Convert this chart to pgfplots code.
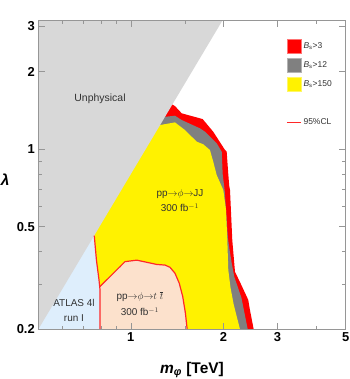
\documentclass[border=0pt]{standalone}
\usepackage{pgfplots}
\pgfplotsset{compat=1.18}
\usepackage{fontspec}
\setmainfont{Liberation Sans}
\definecolor{unphys}{RGB}{216,216,216}
\definecolor{lblue}{RGB}{222,238,252}
\definecolor{peach}{RGB}{252,225,204}
\definecolor{bsgray}{RGB}{128,128,128}
\definecolor{framegray}{RGB}{150,150,150}
\definecolor{txtgray}{RGB}{50,50,50}
\definecolor{clred}{RGB}{255,40,40}
\pgfplotsset{
 sqleg/.style={legend image code/.code={\draw[##1, line width=0.6pt] (0bp,-7bp) rectangle (14bp,7bp);}},
 lineleg/.style={legend image code/.code={\draw[##1, line width=1.3bp] (0bp,0bp) -- (14bp,0bp);}}
}
\begin{document}
\begin{tikzpicture}
\begin{axis}[
 at={(0,0)}, anchor=south west,
 scale only axis, width=307.4bp, height=308.6bp,
 xmode=log, ymode=log,
 xmin=0.5, xmax=5, ymin=0.2, ymax=3.15,
 axis on top,
 xtick={1,2,3,5}, xticklabels={1,2,3,5},
 minor xtick={0.6,0.7,0.8,0.9,1.5,4},
 ytick={0.2,0.5,1,2,3}, yticklabels={0.2,0.5,1,2,3},
 minor ytick={0.3,0.4,0.6,0.7,0.8,0.9},
 tick align=inside,
 major tick length=6.5bp, minor tick length=3.5bp,
 axis line style={framegray, line width=0.6pt},
 tick style={framegray, line width=0.6pt},
 ticklabel style={font=\bfseries\fontsize{13}{13}\selectfont, text=black},
 every axis x label/.style={at={(axis description cs:0.5,-0.1416)}, anchor=base},
 every axis y label/.style={at={(axis description cs:-0.108,0.484)}, anchor=center},
 xlabel={\fontsize{15.5}{16}\selectfont\bfseries\itshape m\textsubscript{φ}\upshape\ [TeV]},
 ylabel={\fontsize{15.5}{16}\selectfont\bfseries\itshape λ},
 legend cell align=left,
 legend style={at={(0.806,0.940)}, anchor=north west, draw=none, fill=none,
   font=\fontsize{8.5}{9}\selectfont, text=txtgray, row sep=4.3bp, inner sep=0pt},
]
% Bs>3 (red)
\addplot[fill=red, draw=none, forget plot] coordinates {
 (0.5,0.2) (0.5,1.5) (1.35,1.50) (1.392,1.469) (1.464,1.377) (1.713,1.308)
 (1.854,1.168) (2.025,0.992) (2.05,0.98) (2.075,0.80) (2.09,0.72) (2.102,0.694)
 (2.138,0.444) (2.182,0.334) (2.265,0.305) (2.41,0.26) (2.44,0.238) (2.51,0.2)
};
% Bs>12 (gray)
\addplot[fill=bsgray, draw=none, forget plot] coordinates {
 (0.5,0.2) (0.5,1.336) (1.301,1.336) (1.392,1.348) (1.464,1.297) (1.679,1.204)
 (1.743,1.168) (1.903,1.053) (1.976,0.977) (1.99,0.80) (2.02,0.69) (2.07,0.45)
 (2.10,0.40) (2.13,0.36) (2.17,0.32) (2.29,0.265) (2.40,0.2)
};
% Bs>150 (yellow)
\addplot[fill=yellow, draw=none, forget plot] coordinates {
 (0.5,0.2) (0.5,1.24) (1.244,1.24) (1.392,1.27) (1.50,1.186) (1.638,1.069)
 (1.721,1.044) (1.809,0.992) (1.854,0.894) (1.903,0.793) (1.999,0.694)
 (2.04,0.581) (2.06,0.444) (2.075,0.34) (2.11,0.29) (2.16,0.25) (2.265,0.2)
};
% ttbar region
\addplot[fill=peach, draw=none, forget plot] coordinates {
 (0.794,0.2) (0.794,0.293) (0.922,0.350) (0.957,0.366) (1.045,0.371) (1.126,0.364)
 (1.214,0.357) (1.292,0.355) (1.341,0.348) (1.392,0.330) (1.437,0.302)
 (1.475,0.268) (1.505,0.231) (1.525,0.2)
};
% ATLAS 4l region
\addplot[fill=lblue, draw=none, forget plot] coordinates {
 (0.5,0.2) (0.5,0.5) (0.7605,0.5) (0.7605,0.462) (0.773,0.371) (0.788,0.311)
 (0.794,0.285) (0.794,0.2)
};
% Unphysical
\addplot[fill=unphys, draw=none, forget plot] coordinates {
 (0.5,0.2) (2.0,3.2) (0.5,3.2)
};
% 95% CL lines
\addplot[clred, line width=1.2bp, forget plot] coordinates {
 (0.794,0.293) (0.922,0.350) (0.957,0.366) (1.045,0.371) (1.126,0.364)
 (1.214,0.357) (1.292,0.355) (1.341,0.348) (1.392,0.330) (1.437,0.302)
 (1.475,0.268) (1.505,0.231) (1.525,0.2)
};
\addplot[clred, line width=1.2bp, forget plot] coordinates {
 (0.7605,0.462) (0.773,0.371) (0.788,0.311) (0.794,0.285) (0.794,0.2)
};
% legend
\addlegendimage{sqleg, fill=red, draw=red!55!white}
\addlegendentry{\textit{B}\textsubscript{s}>3}
\addlegendimage{sqleg, fill=bsgray, draw=bsgray!60!white}
\addlegendentry{\textit{B}\textsubscript{s}>12}
\addlegendimage{sqleg, fill=yellow, draw=yellow!60!white}
\addlegendentry{\textit{B}\textsubscript{s}>150}
\addlegendimage{empty legend}
\addlegendentry{\rule{0pt}{11bp}}
\addlegendimage{lineleg, draw=clred}
\addlegendentry{95\%CL}
% annotations
\node[font=\fontsize{10.5}{12}\selectfont, text=txtgray] at (axis cs:0.794,1.57) {Unphysical};
\node[font=\fontsize{10}{15}\selectfont, text=txtgray, align=center] at (axis cs:1.445,0.629) {pp$\mathord{\rightarrow}\phi\mathord{\rightarrow}$JJ\\300 fb$^{-1}$};
\node[font=\fontsize{10}{15}\selectfont, text=txtgray, align=center] at (axis cs:1.071,0.251) {pp$\mathord{\rightarrow}\phi\mathord{\rightarrow}t\;\overline{t}$\\[1bp]300 fb$^{-1}$};
\node[font=\fontsize{10}{15}\selectfont, text=txtgray, align=center] at (axis cs:0.653,0.236) {ATLAS 4l\\run I};
\end{axis}
\pgfresetboundingbox
\path[use as bounding box] (-38.3bp,-49.7bp) rectangle (311.7bp,329.3bp);
\end{tikzpicture}
\end{document}
